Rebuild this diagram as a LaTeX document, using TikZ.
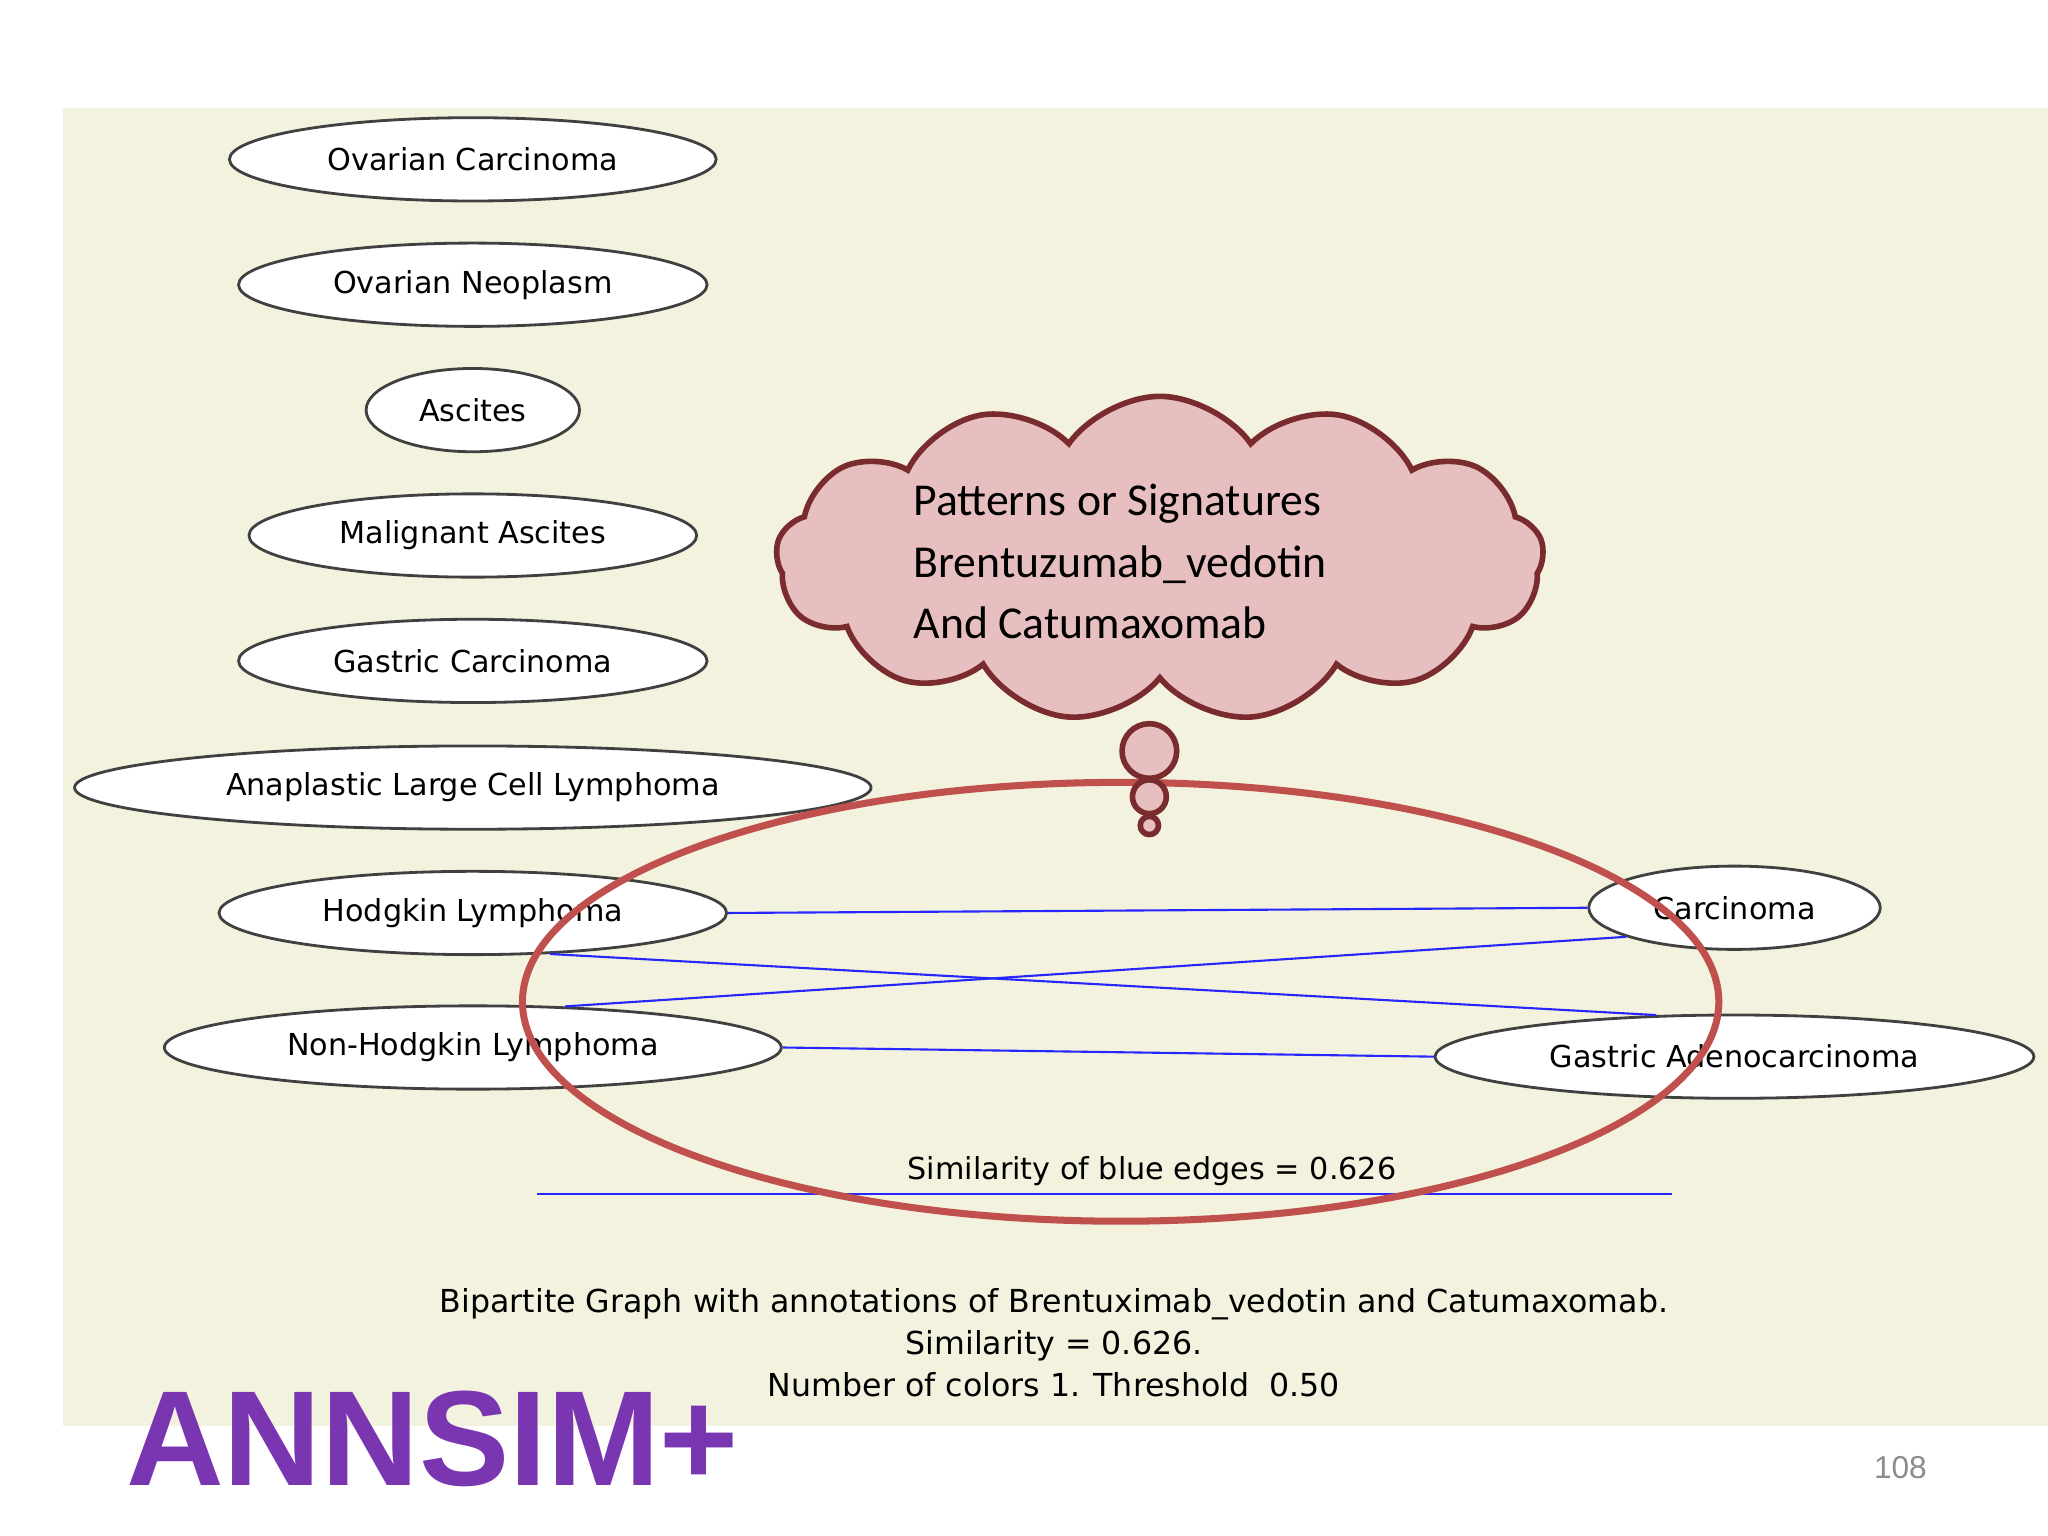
\documentclass[tikz,border=0pt]{standalone}
\usepackage{fontspec}
\setmainfont{DejaVu Sans}
\newfontfamily\calfont{Carlito}
\newfontfamily\arbfont{Liberation Sans}
\usetikzlibrary{shapes.symbols,shapes.geometric}
\definecolor{bg}{HTML}{F2F2DE}
\definecolor{cloudf}{HTML}{E8BFC1}
\definecolor{cloudd}{HTML}{7A2B2E}
\definecolor{ringc}{HTML}{C0504D}
\definecolor{purp}{HTML}{7A35B0}
\tikzset{
 dz/.style={ellipse,draw=black!75,fill=white,line width=0.8pt,font=\fontsize{8.6}{10}\selectfont,inner sep=0pt},
 bl/.style={blue!85!white,line width=0.6pt},
 bub/.style={circle,draw=cloudd,fill=cloudf,line width=1.6pt,inner sep=0},
}
\begin{document}
\begin{tikzpicture}[x=0.013061cm,y=-0.013061cm]
\useasboundingbox (0,0) rectangle (1568,1176);
\fill[white] (0,0) rectangle (1568,1176);
\fill[bg] (48,83) rectangle (1568,1092);
\node[dz,minimum width=374*0.3703pt,minimum height=64*0.3703pt] (oc) at (362,122) {Ovarian Carcinoma};
\node[dz,minimum width=360*0.3703pt,minimum height=64*0.3703pt] (on) at (362,218) {Ovarian Neoplasm};
\node[dz,minimum width=164*0.3703pt,minimum height=64*0.3703pt] (as) at (362,314) {Ascites};
\node[dz,minimum width=344*0.3703pt,minimum height=64*0.3703pt] (ma) at (362,410) {Malignant Ascites};
\node[dz,minimum width=360*0.3703pt,minimum height=64*0.3703pt] (gc) at (362,506) {Gastric Carcinoma};
\node[dz,minimum width=612*0.3703pt,minimum height=64*0.3703pt] (al) at (362,603) {Anaplastic Large Cell Lymphoma};
\node[dz,minimum width=390*0.3703pt,minimum height=64*0.3703pt] (hl) at (362,699) {Hodgkin Lymphoma};
\node[dz,minimum width=474*0.3703pt,minimum height=64*0.3703pt] (nh) at (362,802) {Non-Hodgkin Lymphoma};
\node[dz,minimum width=224*0.3703pt,minimum height=64*0.3703pt] (ca) at (1328,695) {Carcinoma};
\node[dz,minimum width=460*0.3703pt,minimum height=64*0.3703pt] (ga) at (1328,809) {Gastric Adenocarcinoma};
\draw[bl] (hl.east) -- (ca.west);
\draw[bl] (hl.-28) -- (ga.152);
\draw[bl] (nh.24) -- (ca.-165);
\draw[bl] (nh.east) -- (ga.west);
\node[font=\fontsize{8.6}{10}\selectfont] (sim) at (882,897) {Similarity of blue edges = 0.626};
\coordinate (l1) at (411,914); \coordinate (l2) at (1280,914);
\draw[bl] (l1) -- (l2);
\draw[ringc,line width=2pt] (858,767) ellipse (458 and 168);
\node[cloud,cloud puffs=13,cloud puff arc=110,aspect=2.4,draw=cloudd,fill=cloudf,line width=1.6pt,minimum width=590*0.3703pt,minimum height=250*0.3703pt,inner sep=0] (cl) at (888,428) {};
\node[bub,minimum size=42*0.3703pt] (b1) at (880,575) {};
\node[bub,minimum size=26*0.3703pt] (b2) at (880,610) {};
\node[bub,minimum size=14*0.3703pt] (b3) at (880,632) {};
\node[anchor=west,align=left,font=\calfont\fontsize{13}{17.5}\selectfont] (ct) at (690,430) {Patterns or Signatures\\Brentuzumab\_vedotin\\And Catumaxomab};
\node[align=center,font=\fontsize{9}{11.9}\selectfont] (cap) at (807,1028) {Bipartite Graph with annotations of Brentuximab\_vedotin and Catumaxomab.\\Similarity = 0.626.\\Number of colors 1. Threshold\ \ 0.50};
\node[anchor=west,font=\arbfont\bfseries\fontsize{38.5}{40}\selectfont,text=purp,inner sep=0] (ann) at (96,1102) {ANNSIM+};
\node[font=\arbfont\fontsize{9}{10}\selectfont,text=black!45] (pg) at (1455,1124) {108};
\end{tikzpicture}
\end{document}
